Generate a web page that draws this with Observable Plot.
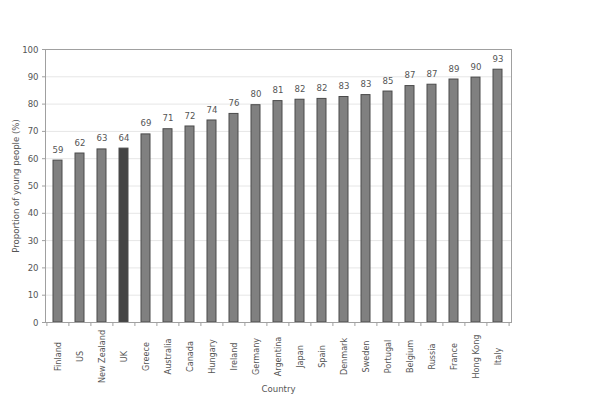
<!DOCTYPE html>
<html>
<head>
<meta charset="utf-8">
<script src="https://cdn.jsdelivr.net/npm/d3@7"></script>
<script src="https://cdn.jsdelivr.net/npm/@observablehq/plot@0.6"></script>
<style>
  body { margin: 0; background: #fff; }
</style>
</head>
<body>
<div id="container-viz"></div>
<script>
// Pays, triés par proportion croissante
const countries = ["Finland", "US", "New Zealand", "UK", "Greece", "Australia", "Canada", "Hungary",
  "Ireland", "Germany", "Argentina", "Japan", "Spain", "Denmark", "Sweden", "Portugal",
  "Belgium", "Russia", "France", "Hong Kong", "Italy"];
// Proportion de jeunes (%)
const values = [59.3, 61.9, 63.4, 63.7, 68.9, 70.8, 71.8, 74.0, 76.4, 79.6, 81.1, 81.6,
  81.9, 82.6, 83.3, 84.6, 86.6, 87.1, 89.0, 89.7, 92.6];
const highlight = "UK";
const yTicks = [0, 10, 20, 30, 40, 50, 60, 70, 80, 90, 100];

const data = countries.map((c, i) => ({ country: c, value: values[i] }));

const W = 595, H = 407;
const margin = { top: 49, right: 84, bottom: 85, left: 45 };
const step = (W - margin.left - margin.right) / countries.length;

function createViz() {
  return Plot.plot({
    width: W,
    height: H,
    marginTop: margin.top,
    marginRight: margin.right,
    marginBottom: margin.bottom,
    marginLeft: margin.left,
    style: { fontFamily: "'DejaVu Sans Condensed', 'DejaVu Sans', sans-serif", fontSize: "9px", color: "#555" },
    x: { domain: countries, paddingInner: 0.58, paddingOuter: 0.29, label: null, axis: null },
    y: { domain: [0, 100], ticks: yTicks, label: null, axis: null },
    marks: [
      Plot.gridY(yTicks, { stroke: "#e6e6e6", strokeOpacity: 1 }),
      Plot.barY(data, {
        x: "country", y: "value",
        fill: d => d.country === highlight ? "#444444" : "#808080",
        stroke: "#4a4a4a", strokeWidth: 1
      }),
      Plot.text(data, {
        x: "country", y: "value", text: d => d3.format(".0f")(d.value),
        dy: -11, fill: "#555", fontSize: 9.5
      }),
      Plot.frame({ stroke: "#a0a0a0" }),
      // petites graduations entre les catégories
      Plot.ruleX(countries, { x: d => d, dx: -step / 2, y1: 0, y2: 0, insetBottom: -4, stroke: "#a0a0a0" }),
      Plot.ruleX([countries[countries.length - 1]], { dx: step / 2, y1: 0, y2: 0, insetBottom: -4, stroke: "#a0a0a0" }),
      Plot.axisY(yTicks, { tickSize: 3, tickPadding: 4, stroke: "#a0a0a0", fill: "#555", fontSize: 9.5, label: null }),
      Plot.axisX({ tickSize: 0, tickRotate: -90, textAnchor: "middle", tickPadding: 0, dy: 34, fill: "#555", fontSize: 9, label: null }),
      Plot.text(["Country"], { frameAnchor: "bottom", dy: 69, fill: "#555", fontSize: 9.5 }),
      Plot.text(["Proportion of young people (%)"], { frameAnchor: "left", dx: -30, rotate: -90, textAnchor: "middle", fill: "#555", fontSize: 9.5 })
    ]
  });
}

document.getElementById("container-viz").appendChild(createViz());
</script>
</body>
</html>
